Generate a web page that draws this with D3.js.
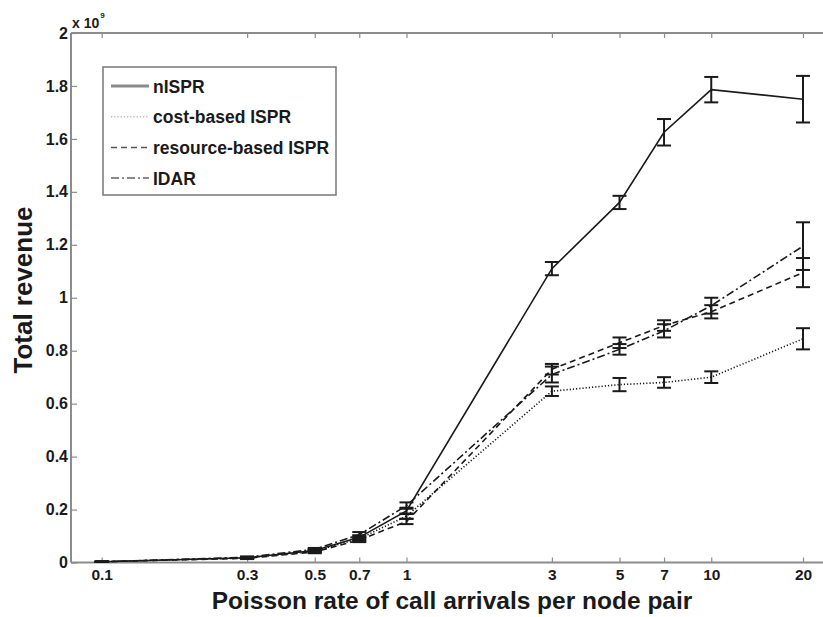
<!DOCTYPE html>
<html>
<head>
<meta charset="utf-8">
<script src="https://cdn.jsdelivr.net/npm/d3@7"></script>
<style>
  body { margin: 0; background: #fff; }
  text { font-family: "Liberation Sans", Arial, sans-serif; font-weight: bold; fill: #1a1a1a; }
</style>
</head>
<body>
<div id="chart"></div>
<script>
// call arrival rates (x) and total revenue in units of 1e9 (y)
const rates = [0.1, 0.3, 0.5, 0.7, 1, 3, 5, 7, 10, 20];

const nISPR    = [0.003, 0.018, 0.045, 0.095, 0.195, 1.11, 1.36, 1.625, 1.786, 1.75];
const nISPRErr = [0.001, 0.003, 0.005, 0.008, 0.012, 0.025, 0.025, 0.05, 0.048, 0.088];

const costISPR    = [0.003, 0.017, 0.043, 0.09, 0.175, 0.647, 0.672, 0.68, 0.70, 0.845];
const costISPRErr = [0.001, 0.003, 0.005, 0.008, 0.01, 0.018, 0.025, 0.02, 0.022, 0.04];

const resISPR    = [0.003, 0.016, 0.04, 0.085, 0.155, 0.73, 0.83, 0.895, 0.947, 1.095];
const resISPRErr = [0.001, 0.003, 0.005, 0.008, 0.01, 0.02, 0.02, 0.02, 0.025, 0.055];

const idar    = [0.003, 0.02, 0.05, 0.105, 0.215, 0.71, 0.805, 0.875, 0.97, 1.195];
const idarErr = [0.001, 0.003, 0.005, 0.01, 0.012, 0.03, 0.02, 0.025, 0.03, 0.09];

const xTicks = [0.1, 0.3, 0.5, 0.7, 1, 3, 5, 7, 10, 20];
const yTicks = [0, 0.2, 0.4, 0.6, 0.8, 1, 1.2, 1.4, 1.6, 1.8, 2];

const series = [
  { name: 'nISPR', y: nISPR, err: nISPRErr, dash: null, legendColor: '#8a8a8a', legendW: 3 },
  { name: 'cost-based ISPR', y: costISPR, err: costISPRErr, dash: '1.2,2', legendColor: '#bbb', legendW: 1.5 },
  { name: 'resource-based ISPR', y: resISPR, err: resISPRErr, dash: '6,4', legendColor: '#555', legendW: 1.5 },
  { name: 'IDAR', y: idar, err: idarErr, dash: '8,3,2,3', legendColor: '#666', legendW: 1.5 }
];

const W = 823, H = 617;
const pLeft = 71, pRight = 830, pTop = 33, pBottom = 562.5;

const x = d3.scaleLog().domain([0.1, 20]).range([101.7, 803]);
const y = d3.scaleLinear().domain([0, 2]).range([pBottom, pTop]);

const svg = d3.select('#chart').append('svg')
  .attr('width', W).attr('height', H);

// axes box
const axisColor = '#8c8c8c';
svg.append('line').attr('x1', pLeft).attr('x2', pRight).attr('y1', pBottom).attr('y2', pBottom)
  .attr('stroke', axisColor).attr('stroke-width', 2);
svg.append('line').attr('x1', pLeft).attr('x2', pRight).attr('y1', pTop).attr('y2', pTop)
  .attr('stroke', axisColor).attr('stroke-width', 2);
svg.append('line').attr('x1', pLeft).attr('x2', pLeft).attr('y1', pTop).attr('y2', pBottom)
  .attr('stroke', axisColor).attr('stroke-width', 2);

const fmt = d => String(+d.toFixed(1));

const xAxis = svg.append('g')
  .attr('transform', `translate(0,${pBottom})`)
  .call(d3.axisBottom(x).tickValues(xTicks).tickSize(-5).tickPadding(5).tickFormat(fmt));
xAxis.select('.domain').remove();
xAxis.selectAll('line').attr('stroke', axisColor).attr('stroke-width', 1.2);
xAxis.selectAll('text').style('font-size', '15.5px').attr('dy', '0.8em');

const xTop = svg.append('g')
  .attr('transform', `translate(0,${pTop})`)
  .call(d3.axisTop(x).tickValues(xTicks).tickSize(-5).tickFormat(''));
xTop.select('.domain').remove();
xTop.selectAll('line').attr('stroke', axisColor).attr('stroke-width', 1.2);

const yAxis = svg.append('g')
  .attr('transform', `translate(${pLeft},0)`)
  .call(d3.axisLeft(y).tickValues(yTicks).tickSize(-6).tickPadding(3).tickFormat(fmt));
yAxis.select('.domain').remove();
yAxis.selectAll('line').attr('stroke', axisColor).attr('stroke-width', 1.2);
yAxis.selectAll('text').style('font-size', '16px');

// exponent label
const expo = svg.append('text').attr('x', 72).attr('y', 28).style('font-size', '14px');
expo.append('tspan').text('x 10');
expo.append('tspan').attr('dx', 1).attr('dy', -10).style('font-size', '8px').text('9');

// axis titles
svg.append('text')
  .attr('x', 452).attr('y', 609)
  .attr('text-anchor', 'middle')
  .style('font-size', '24.5px')
  .text('Poisson rate of call arrivals per node pair');

svg.append('text')
  .attr('transform', `translate(32,290) rotate(-90)`)
  .attr('text-anchor', 'middle')
  .style('font-size', '26px')
  .text('Total revenue');

// series lines and error bars
const line = d3.line().x(d => x(d[0])).y(d => y(d[1]));
const cap = 7;

series.forEach(s => {
  const pts = rates.map((r, i) => [r, s.y[i], s.err[i]]);
  svg.append('path')
    .datum(pts)
    .attr('d', line)
    .attr('fill', 'none')
    .attr('stroke', '#1a1a1a')
    .attr('stroke-width', 1.6)
    .attr('stroke-dasharray', s.dash);

  const eb = svg.append('g').attr('stroke', '#1a1a1a').attr('stroke-width', 2);
  eb.selectAll('.v').data(pts).enter().append('line')
    .attr('x1', d => x(d[0])).attr('x2', d => x(d[0]))
    .attr('y1', d => y(d[1] - d[2])).attr('y2', d => y(d[1] + d[2]));
  eb.selectAll('.t').data(pts).enter().append('line')
    .attr('x1', d => x(d[0]) - cap).attr('x2', d => x(d[0]) + cap)
    .attr('y1', d => y(d[1] + d[2])).attr('y2', d => y(d[1] + d[2]));
  eb.selectAll('.b').data(pts).enter().append('line')
    .attr('x1', d => x(d[0]) - cap).attr('x2', d => x(d[0]) + cap)
    .attr('y1', d => y(d[1] - d[2])).attr('y2', d => y(d[1] - d[2]));
});

// legend
const lg = svg.append('g').attr('transform', 'translate(103,67)');
lg.append('rect').attr('width', 233).attr('height', 128)
  .attr('fill', '#fff').attr('stroke', '#777').attr('stroke-width', 1.5);
series.forEach((s, i) => {
  const yy = 19 + i * 30.7;
  lg.append('line').attr('x1', 8).attr('x2', 46).attr('y1', yy).attr('y2', yy)
    .attr('stroke', s.legendColor).attr('stroke-width', s.legendW)
    .attr('stroke-dasharray', s.dash);
  lg.append('text').attr('x', 50).attr('y', yy + 6.5).style('font-size', '17.5px').text(s.name);
});
</script>
</body>
</html>
